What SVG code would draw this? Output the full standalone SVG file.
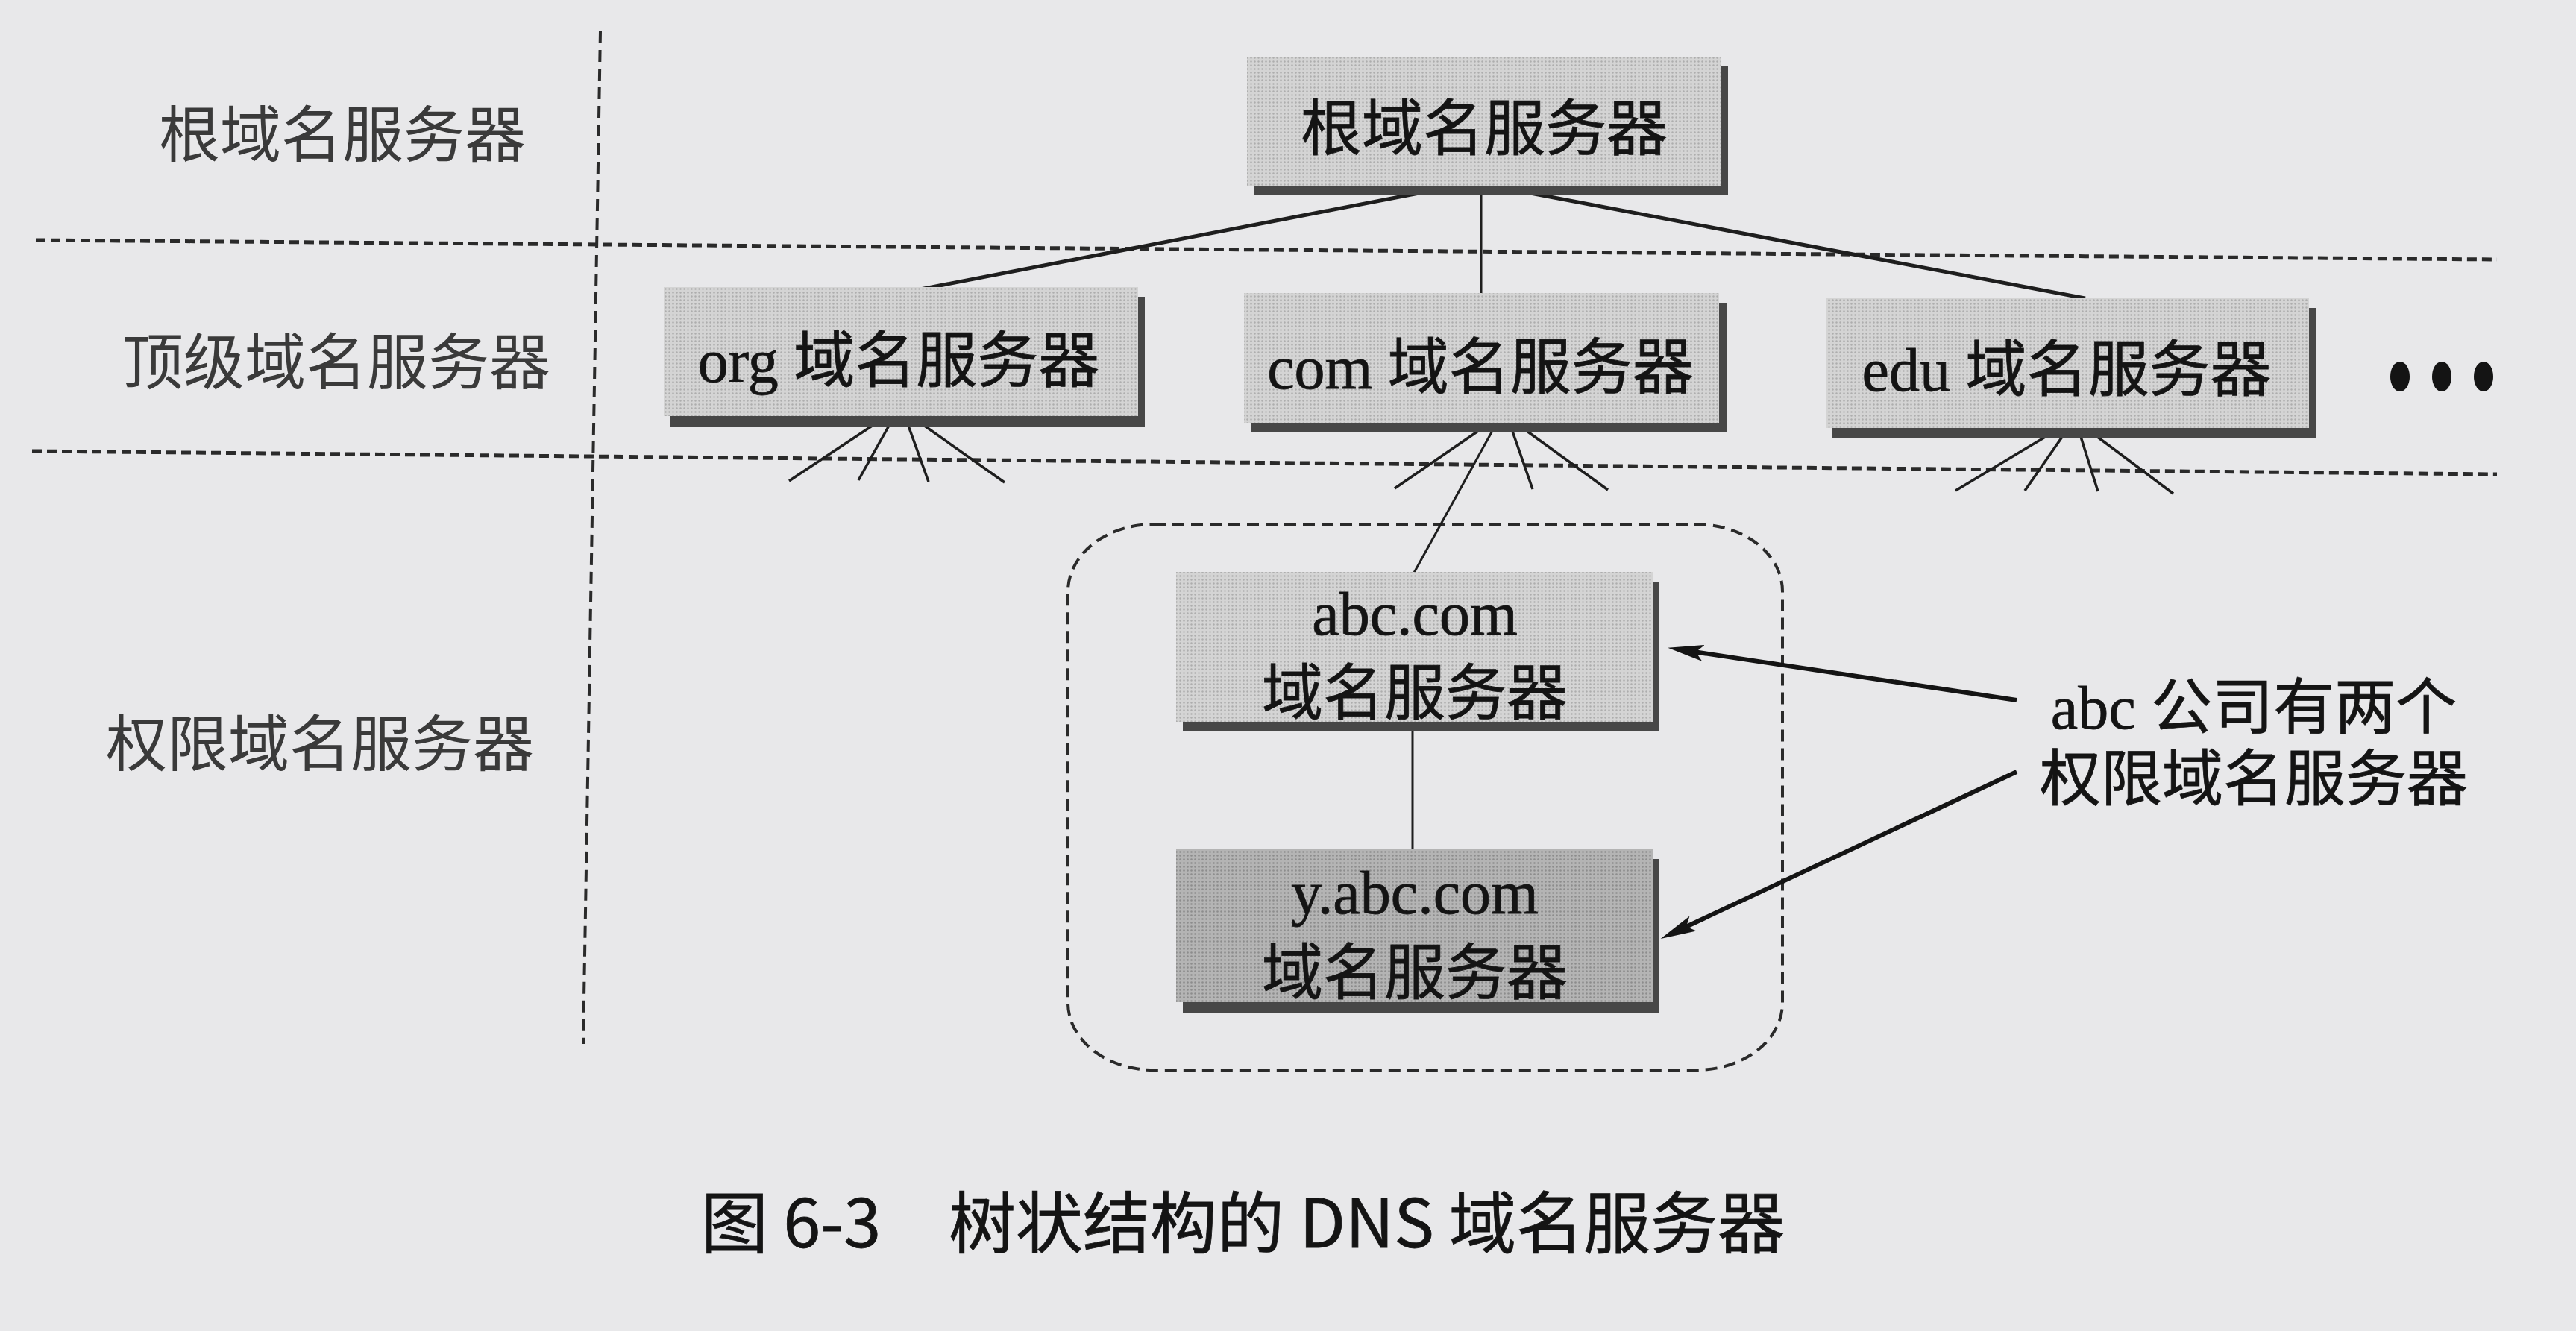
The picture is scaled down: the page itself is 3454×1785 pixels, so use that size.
<svg xmlns="http://www.w3.org/2000/svg" width="3454" height="1785" viewBox="0 0 3454 1785">
  <style>
    .lbl { font-family: "Noto Sans CJK SC", "Noto Sans", sans-serif; font-size: 82px; fill: #3a3a3a; }
    .ntx { font-family: "Liberation Serif", "Noto Sans CJK SC", serif; font-size: 82px; fill: #141414; text-anchor: middle; stroke: #141414; stroke-width: 0.8; }
    .cap { font-family: "Noto Sans CJK SC", "Noto Sans", sans-serif; font-size: 90px; fill: #141414; stroke: #141414; stroke-width: 0.8; }
    .face { fill: url(#tex); }
    .faceDark { fill: url(#texDark); }
    .shadow { fill: #474747; }
    .sep { fill: none; stroke: #2a2a2a; stroke-width: 5; stroke-dasharray: 13 7; }
    .vsep { fill: none; stroke: #2a2a2a; stroke-width: 4; stroke-dasharray: 16 9; }
    .tree { fill: none; stroke: #1e1e1e; stroke-width: 5; }
    .fan { fill: none; stroke: #1e1e1e; stroke-width: 3.5; }
    .thin { fill: none; stroke: #1e1e1e; stroke-width: 3; }
    .arrow { fill: none; stroke: #141414; stroke-width: 6; marker-end: url(#ah); }
  </style>
  <defs>
    <pattern id="tex" width="5" height="5" patternUnits="userSpaceOnUse">
      <rect width="5" height="5" fill="#d4d4d4"/>
      <circle cx="2.5" cy="2.5" r="1.2" fill="#adadad"/>
    </pattern>
    <pattern id="texDark" width="5" height="5" patternUnits="userSpaceOnUse">
      <rect width="5" height="5" fill="#b4b4b4"/>
      <circle cx="2.5" cy="2.5" r="1.3" fill="#8c8c8c"/>
    </pattern>
    <marker id="ah" viewBox="0 0 48 22" refX="20" refY="11" markerWidth="48" markerHeight="22" markerUnits="userSpaceOnUse" orient="auto">
      <path d="M0,0 L48,11 L0,22 L10,11 z" fill="#141414"/>
    </marker>
  </defs>

  <rect x="0" y="0" width="3454" height="1785" fill="#e8e8ea"/>

  <g id="guides">
    <path class="sep" d="M48,322 L3348,348"/>
    <path class="sep" d="M43,605 L3348,636"/>
    <path class="vsep" d="M805,42 L782,1400"/>
    <rect class="vsep" x="1432" y="703" width="958" height="732" rx="115" ry="90"/>
  </g>

  <g id="level-labels">
    <text class="lbl" x="213" y="210">根域名服务器</text>
    <text class="lbl" x="164" y="515">顶级域名服务器</text>
    <text class="lbl" x="142" y="1027">权限域名服务器</text>
  </g>

  <g id="connectors">
    <path class="tree" d="M1913,257 L1234,388"/>
    <path class="thin" d="M1986,257 L1986,394"/>
    <path class="tree" d="M2052,259 L2796,400"/>
    <path class="fan" d="M1186,560 L1058,645"/>
    <path class="fan" d="M1198,560 L1151,644"/>
    <path class="fan" d="M1214,560 L1245,646"/>
    <path class="fan" d="M1224,560 L1347,647"/>
    <path class="fan" d="M1998,567 L1870,655"/>
    <path class="thin" d="M2007,567 L1896,768"/>
    <path class="fan" d="M2024,567 L2055,656"/>
    <path class="fan" d="M2032,567 L2156,657"/>
    <path class="fan" d="M2764,573 L2622,658"/>
    <path class="fan" d="M2774,573 L2715,658"/>
    <path class="fan" d="M2786,573 L2813,659"/>
    <path class="fan" d="M2795,573 L2914,662"/>
    <path class="thin" d="M1894,970 L1894,1142"/>
    <path class="arrow" d="M2704,939 L2264,873"/>
    <path class="arrow" d="M2704,1035 L2252,1247" stroke-width="5"/>
  </g>

  <g id="root-server">
    <rect class="shadow" x="1681" y="89" width="636" height="172"/>
    <rect class="face" x="1672" y="77" width="636" height="173"/>
    <text class="ntx" x="1990" y="201">根域名服务器</text>
  </g>

  <g id="org-server">
    <rect class="shadow" x="899" y="398" width="636" height="175"/>
    <rect class="face" x="890" y="385" width="636" height="173"/>
    <text class="ntx" x="1205" y="512">org 域名服务器</text>
  </g>

  <g id="com-server">
    <rect class="shadow" x="1677" y="406" width="638" height="174"/>
    <rect class="face" x="1668" y="393" width="637" height="174"/>
    <text class="ntx" x="1985" y="521">com 域名服务器</text>
  </g>

  <g id="edu-server">
    <rect class="shadow" x="2457" y="413" width="648" height="175"/>
    <rect class="face" x="2448" y="400" width="648" height="174"/>
    <text class="ntx" x="2771" y="524">edu 域名服务器</text>
  </g>

  <g id="more">
    <ellipse cx="3218" cy="505" rx="13" ry="20" fill="#141414"/>
    <ellipse cx="3274" cy="505" rx="13" ry="20" fill="#141414"/>
    <ellipse cx="3330" cy="505" rx="13" ry="20" fill="#141414"/>
  </g>

  <g id="abc-server">
    <rect class="shadow" x="1586" y="780" width="639" height="201"/>
    <rect class="face" x="1577" y="767" width="640" height="201"/>
    <text class="ntx" x="1897" y="851">abc.com</text>
    <text class="ntx" x="1897" y="958">域名服务器</text>
  </g>

  <g id="y-abc-server">
    <rect class="shadow" x="1586" y="1152" width="639" height="207"/>
    <rect class="faceDark" x="1577" y="1139" width="640" height="205"/>
    <text class="ntx" x="1897" y="1225">y.abc.com</text>
    <text class="ntx" x="1897" y="1333">域名服务器</text>
  </g>

  <g id="annotation">
    <text class="ntx" x="3022" y="977">abc 公司有两个</text>
    <text class="ntx" x="3022" y="1073">权限域名服务器</text>
  </g>

  <g id="caption">
    <text class="cap"><tspan x="940" y="1673">图 6-3</tspan><tspan x="1272" y="1673">树状结构的 DNS 域名服务器</tspan></text>
  </g>
</svg>
